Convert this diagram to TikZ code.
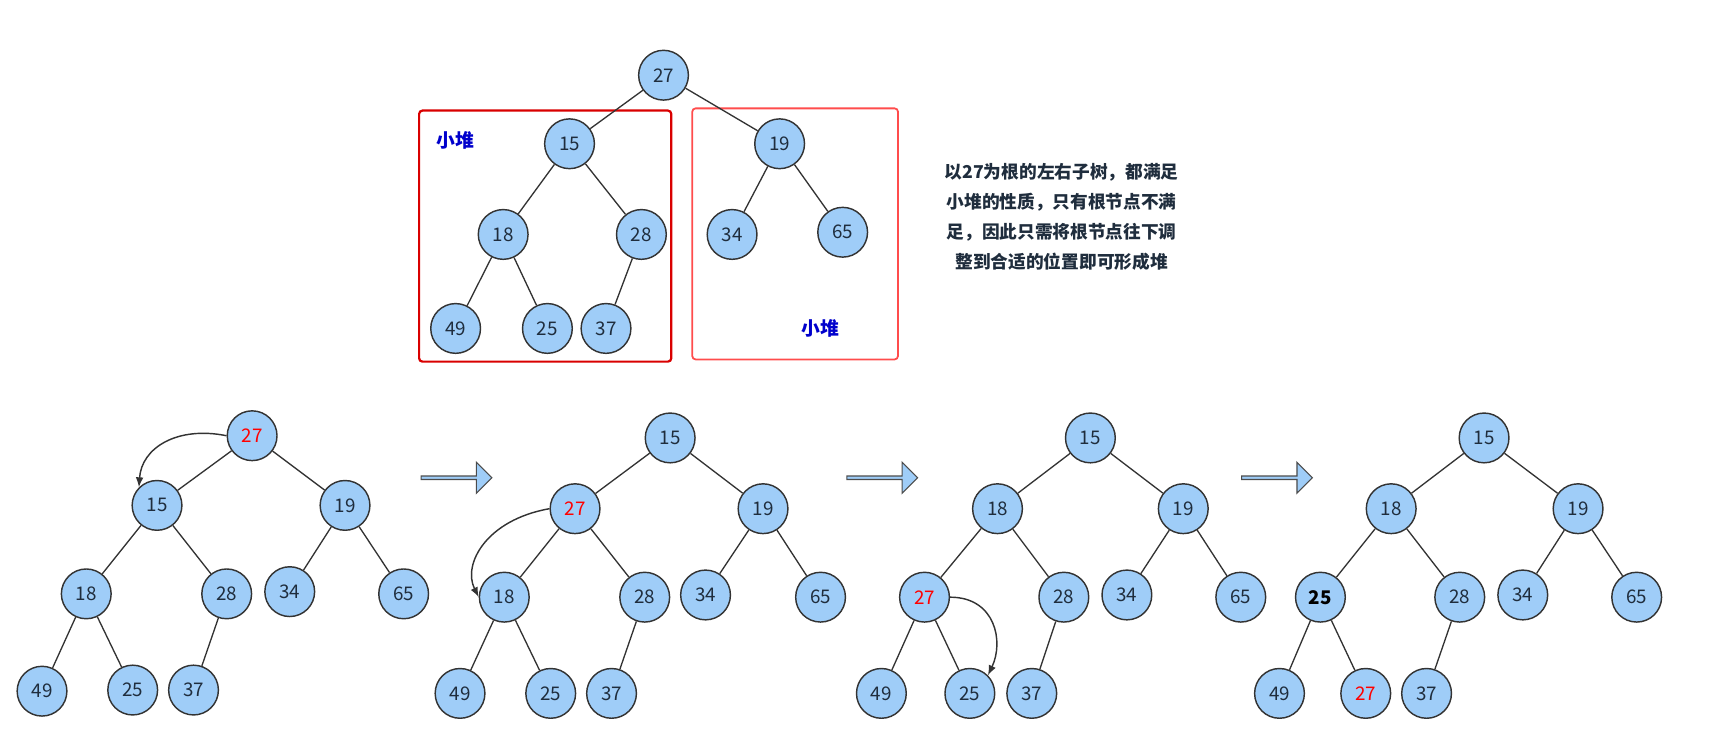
\documentclass[tikz,border=0pt]{standalone}
\usepackage{fontspec}
\setmainfont{Noto Sans CJK SC}
\usetikzlibrary{arrows.meta,shapes.arrows}
\definecolor{nfill}{HTML}{9FCDF8}
\definecolor{ntext}{HTML}{1F2D3D}
\begin{document}
\begin{tikzpicture}[x=1pt,y=-1pt,
  nd/.style={circle,draw=black!80,line width=1.3pt,fill=nfill,minimum size=45pt,inner sep=0pt,font=\fontsize{17}{17}\selectfont,text=ntext},
  rd/.style={nd,text=red},
  bk/.style={nd,text=black,font=\fontsize{17}{17}\selectfont\bfseries},
  ed/.style={draw=black!80,line width=1.2pt},
  cur/.style={-{Latex[length=9pt,width=7pt]},line width=1.3pt,black!80},
  big/.style={single arrow,draw=black!70,fill=nfill,line width=1pt,minimum height=64pt,minimum width=28pt,single arrow head extend=4pt,inner sep=0pt},
  lbl/.style={text=blue!80!black,font=\fontsize{17}{17}\selectfont\bfseries}]
\useasboundingbox (0,0) rectangle (1568,664);
% top
\draw[red!85!black,line width=2pt,rounded corners=3pt] (379,100) rectangle (607,327);
\draw[red!70,line width=1.6pt,rounded corners=3pt] (626,98) rectangle (812,325);
\node[lbl] (l1) at (412,127) {小堆};
\node[lbl] (l2) at (742,297) {小堆};
\node[font=\fontsize{16}{27}\selectfont\bfseries,text=ntext,align=center] (txt) at (960,196) {以27为根的左右子树，都满足\\小堆的性质，只有根节点不满\\足，因此只需将根节点往下调\\整到合适的位置即可形成堆};
\begin{scope}
\node[nd] (a0) at (600,68) {27};
\node[nd] (a1) at (515,130) {15};
\node[nd] (a2) at (705,130) {19};
\node[nd] (a3) at (455,212) {18};
\node[nd] (a4) at (580,212) {28};
\node[nd] (a5) at (662,212) {34};
\node[nd] (a6) at (762,210) {65};
\node[nd] (a7) at (412,297) {49};
\node[nd] (a8) at (495,297) {25};
\node[nd] (a9) at (548,297) {37};
\draw[ed] (a0)--(a1) (a0)--(a2) (a1)--(a3) (a1)--(a4) (a2)--(a5) (a2)--(a6) (a3)--(a7) (a3)--(a8) (a4)--(a9);
\end{scope}
% tree 1
\node[rd] (b0) at (228,394) {27};
\node[nd] (b1) at (142,457) {15};
\node[nd] (b2) at (312,457) {19};
\node[nd] (b3) at (78,537) {18};
\node[nd] (b4) at (205,537) {28};
\node[nd] (b5) at (262,535) {34};
\node[nd] (b6) at (365,537) {65};
\node[nd] (b7) at (38,625) {49};
\node[nd] (b8) at (120,624) {25};
\node[nd] (b9) at (175,624) {37};
\draw[ed] (b0)--(b1) (b0)--(b2) (b1)--(b3) (b1)--(b4) (b2)--(b5) (b2)--(b6) (b3)--(b7) (b3)--(b8) (b4)--(b9);
\draw[cur] (b0.west) .. controls (160,385) and (128,405) .. (b1.north west);
% arrows
\node[big] (ar1) at (412,432) {};
\node[big] (ar2) at (797,432) {};
\node[big] (ar3) at (1154,432) {};
% tree 2
\node[nd] (c0) at (606,396) {15};
\node[rd] (c1) at (520,460) {27};
\node[nd] (c2) at (690,460) {19};
\node[nd] (c3) at (456,540) {18};
\node[nd] (c4) at (583,540) {28};
\node[nd] (c5) at (638,538) {34};
\node[nd] (c6) at (742,540) {65};
\node[nd] (c7) at (416,627) {49};
\node[nd] (c8) at (498,627) {25};
\node[nd] (c9) at (553,627) {37};
\draw[ed] (c0)--(c1) (c0)--(c2) (c1)--(c3) (c1)--(c4) (c2)--(c5) (c2)--(c6) (c3)--(c7) (c3)--(c8) (c4)--(c9);
\draw[cur] (c1.west) .. controls (440,470) and (418,510) .. (c3.west);
% tree 3
\node[nd] (d0) at (986,396) {15};
\node[nd] (d1) at (902,460) {18};
\node[nd] (d2) at (1070,460) {19};
\node[rd] (d3) at (836,540) {27};
\node[nd] (d4) at (962,540) {28};
\node[nd] (d5) at (1019,538) {34};
\node[nd] (d6) at (1122,540) {65};
\node[nd] (d7) at (797,627) {49};
\node[nd] (d8) at (877,627) {25};
\node[nd] (d9) at (933,627) {37};
\draw[ed] (d0)--(d1) (d0)--(d2) (d1)--(d3) (d1)--(d4) (d2)--(d5) (d2)--(d6) (d3)--(d7) (d3)--(d8) (d4)--(d9);
\draw[cur] (d3.east) .. controls (900,540) and (908,580) .. (d8.north east);
% tree 4
\node[nd] (e0) at (1342,396) {15};
\node[nd] (e1) at (1258,460) {18};
\node[nd] (e2) at (1427,460) {19};
\node[bk] (e3) at (1194,540) {25};
\node[nd] (e4) at (1320,540) {28};
\node[nd] (e5) at (1377,538) {34};
\node[nd] (e6) at (1480,540) {65};
\node[nd] (e7) at (1157,627) {49};
\node[rd] (e8) at (1235,627) {27};
\node[nd] (e9) at (1290,627) {37};
\draw[ed] (e0)--(e1) (e0)--(e2) (e1)--(e3) (e1)--(e4) (e2)--(e5) (e2)--(e6) (e3)--(e7) (e3)--(e8) (e4)--(e9);
\end{tikzpicture}
\end{document}
